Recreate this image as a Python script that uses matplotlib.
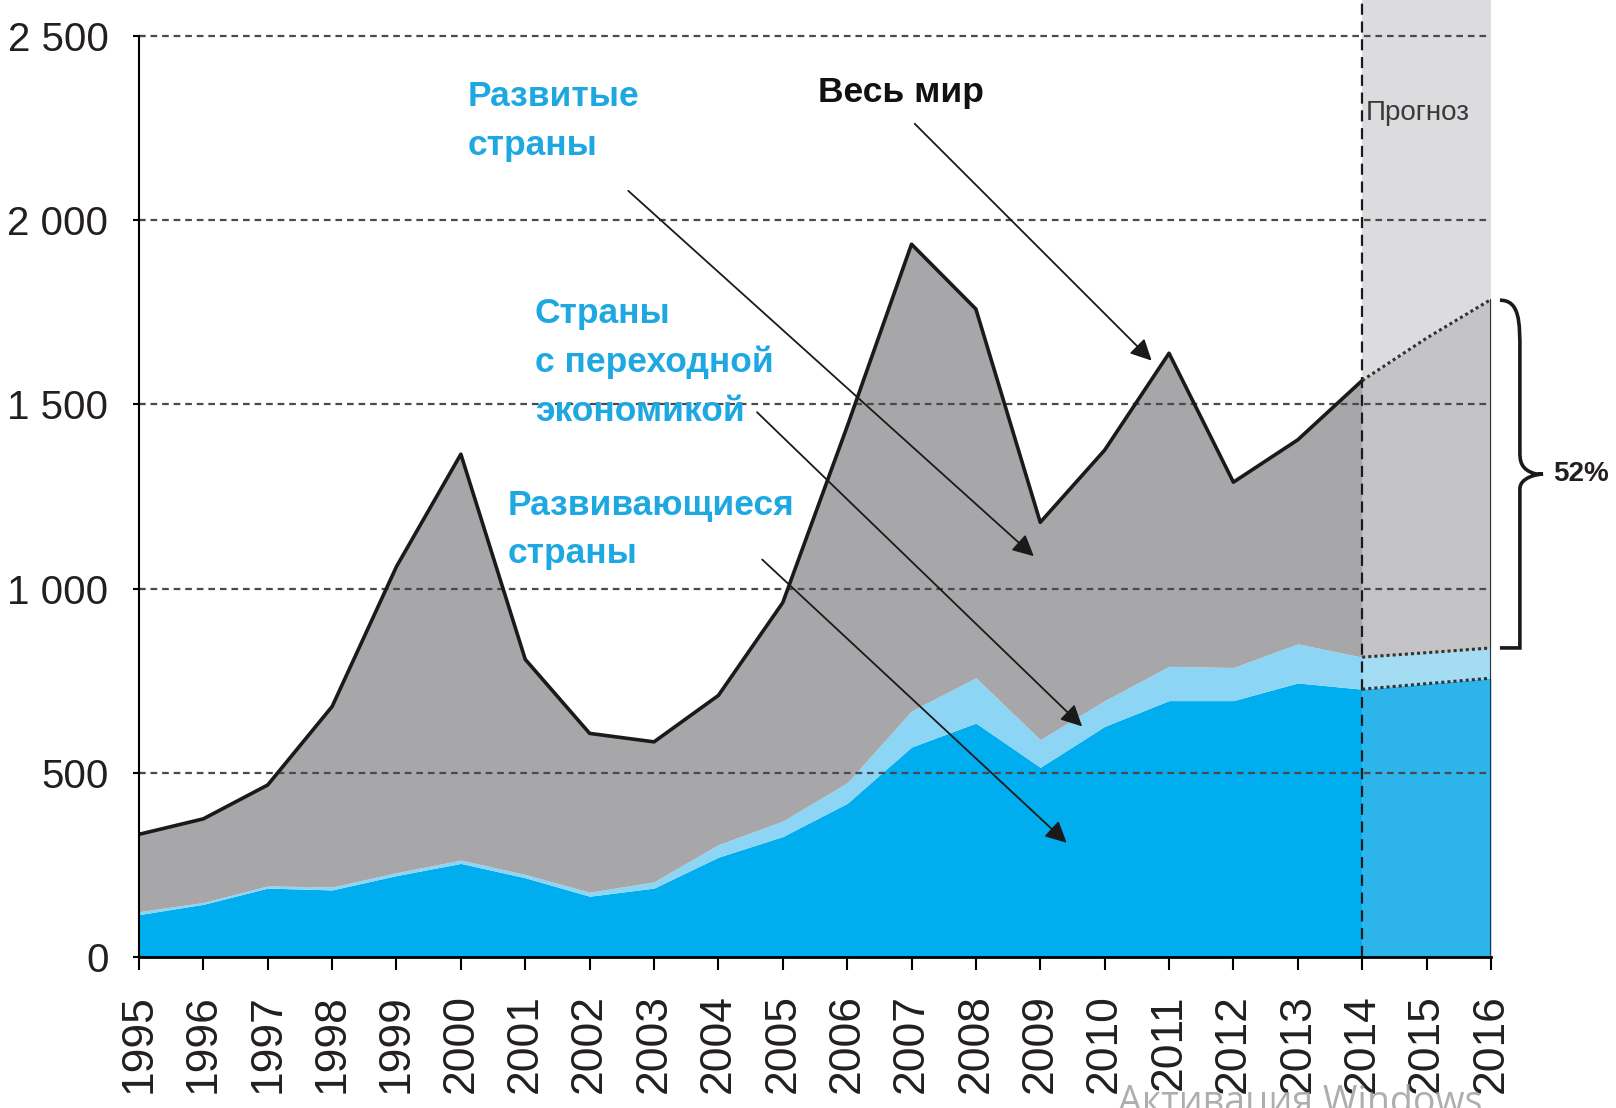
import matplotlib
matplotlib.use("Agg")
import matplotlib.pyplot as plt
from matplotlib import font_manager as fm
from matplotlib.path import Path
from matplotlib.patches import PathPatch
import numpy as np

# Colors
blue = "#00adef"
blue_fc = "#2db4ea"
light_blue = "#8dd5f4"
light_blue_fc = "#a3dcf3"
gray = "#a7a7a9"
gray_fc = "#c4c4c6"
span_gray = "#dcdcde"
label_blue = "#1ea8e2"

years = list(range(1995, 2017))
world = [333, 375, 467, 680, 1060, 1365, 808, 607, 584, 710, 962, 1440,
         1935, 1759, 1180, 1376, 1639, 1289, 1404, 1565, 1680, 1785]
developing = [115, 143, 187, 182, 221, 254, 215, 165, 187, 271, 327, 417,
              570, 635, 515, 626, 696, 696, 744, 727, 742, 757]
transition = [8, 5, 6, 8, 8, 9, 9, 11, 17, 34, 42, 56,
              98, 123, 75, 70, 93, 90, 106, 87, 84, 82]
yticks = [0, 500, 1000, 1500, 2000, 2500]
ytick_labels = ["0", "500", "1 000", "1 500", "2 000", "2 500"]
forecast_start = 2014
share_label = "52%"

# a narrow face if the system has one, otherwise Liberation Sans a bit smaller
names = {f.name for f in fm.fontManager.ttflist}
if "Liberation Sans Narrow" in names:
    narrow = ["Liberation Sans Narrow", "DejaVu Sans"]
    k = 1.18
else:
    narrow = ["Liberation Sans", "DejaVu Sans"]
    k = 1.0
regular = ["Liberation Sans", "DejaVu Sans"]

years = np.array(years)
world = np.array(world)
dev = np.array(developing)
trans_top = dev + np.array(transition)

fig = plt.figure(figsize=(16.16, 11.08), dpi=100)
ax = fig.add_axes([0.086, 0.1363, 0.8366, 0.8637])
ax.set_xlim(1995, 2016)
ax.set_ylim(0, 2598)

# forecast background
ax.axvspan(forecast_start, 2016, color=span_gray, zorder=0, lw=0)

h = years <= forecast_start
f = years >= forecast_start
ax.fill_between(years[h], 0, dev[h], color=blue, lw=0, zorder=1)
ax.fill_between(years[h], dev[h], trans_top[h], color=light_blue, lw=0, zorder=1)
ax.fill_between(years[h], trans_top[h], world[h], color=gray, lw=0, zorder=1)
ax.fill_between(years[f], 0, dev[f], color=blue_fc, lw=0, zorder=1)
ax.fill_between(years[f], dev[f], trans_top[f], color=light_blue_fc, lw=0, zorder=1)
ax.fill_between(years[f], trans_top[f], world[f], color=gray_fc, lw=0, zorder=1)

# grid
ax.hlines(yticks[1:], 1995, 2016, colors="#4a4a4a", linestyles=(0, (3, 2.2)),
          lw=1.6, zorder=2)

ax.plot(years[h], world[h], color="#1a1a1a", lw=2.6, zorder=4)
for series in (world, trans_top, dev):
    ax.plot(years[f], series[f], color="#333333", lw=2.2, ls=(0, (1, 1)), zorder=4)
ax.vlines(2016, 0, world[-1], color="#333333", lw=1.5, zorder=4)
ax.axvline(forecast_start, color="#1a1a1a", lw=1.6, ls=(0, (5, 3)), zorder=3)

# axes styling
for s in ("top", "right"):
    ax.spines[s].set_visible(False)
ax.spines["left"].set_bounds(0, 2500)
ax.spines["left"].set_linewidth(1.5)
ax.spines["bottom"].set_linewidth(2.0)
ax.spines["left"].set_zorder(5)
ax.spines["bottom"].set_zorder(5)
ax.set_yticks(yticks)
ax.set_yticklabels(ytick_labels, fontfamily=narrow, fontsize=29 * k, color="#231f20")
ax.set_xticks(years)
ax.set_xticklabels([str(y) for y in years], rotation=90, fontfamily=regular,
                   fontsize=32, color="#231f20")
ax.tick_params(axis="y", direction="inout", length=8, width=1.5, pad=18)
ax.tick_params(axis="x", direction="out", length=9, width=1.5, pad=18)

# annotations
arrow = dict(arrowstyle="-|>", mutation_scale=32, lw=1.3, color="#1a1a1a",
             shrinkA=0, shrinkB=0)
lab = dict(fontfamily=narrow, fontweight="bold", fontsize=25.5 * k, ha="left",
           va="center", linespacing=1.6)
ax.text(2000.1, 2270, "Развитые\nстраны", color=label_blue, **lab)
ax.annotate("", xy=(2008.9, 1088), xytext=(2002.6, 2080), arrowprops=arrow)
ax.text(2005.55, 2346, "Весь мир", color="#111111", **lab)
ax.annotate("", xy=(2010.73, 1619), xytext=(2007.05, 2262), arrowprops=arrow)
ax.text(2001.15, 1615, "Страны\nс переходной\nэкономикой", color=label_blue, **lab)
ax.annotate("", xy=(2009.65, 626), xytext=(2004.6, 1479), arrowprops=arrow)
ax.text(2000.72, 1160, "Развивающиеся\nстраны", color=label_blue, **lab)
ax.annotate("", xy=(2009.41, 310), xytext=(2004.68, 1079), arrowprops=arrow)

ax.text(2014.06, 2291, "Прогноз", fontfamily=narrow, fontsize=20 * k,
        color="#3a3a3a", ha="left", va="center")

# brace for forecast share
y_top, y_bot = 1783, 839
y_mid = (y_top + y_bot) / 2
x0, x1, x2 = 2016.14, 2016.45, 2016.81
verts = [(x0, y_top), (x1, y_top), (x1, y_top - 60), (x1, y_top - 140),
         (x1, y_mid + 60), (x1, y_mid + 40), (x1, y_mid + 10),
         (x2 - 0.1, y_mid), (x2, y_mid),
         (x2 - 0.1, y_mid), (x1, y_mid - 10), (x1, y_mid - 40),
         (x1, y_mid - 60), (x1, y_bot + 140), (x1, y_bot + 60),
         (x1, y_bot), (x0, y_bot)]
codes = [Path.MOVETO, Path.CURVE4, Path.CURVE4, Path.CURVE4,
         Path.LINETO, Path.CURVE4, Path.CURVE4, Path.CURVE4, Path.LINETO,
         Path.CURVE4, Path.CURVE4, Path.CURVE4,
         Path.LINETO, Path.CURVE4, Path.CURVE4, Path.CURVE4, Path.LINETO]
ax.add_patch(PathPatch(Path(verts, codes), fill=False, lw=2.6, color="#1a1a1a",
                       clip_on=False, zorder=5))
ax.text(2016.97, y_mid, share_label, fontfamily=narrow, fontweight="bold",
        fontsize=20 * k, color="#231f20", ha="left", va="center", clip_on=False)

# screen watermark visible in the source image
fig.text(0.692, -0.004, "Активация Windows", fontfamily=["Open Sans", "DejaVu Sans"],
         fontsize=27, color="#a0a0a0", alpha=0.85, ha="left", va="baseline")

fig.savefig("out.png", dpi=100)
